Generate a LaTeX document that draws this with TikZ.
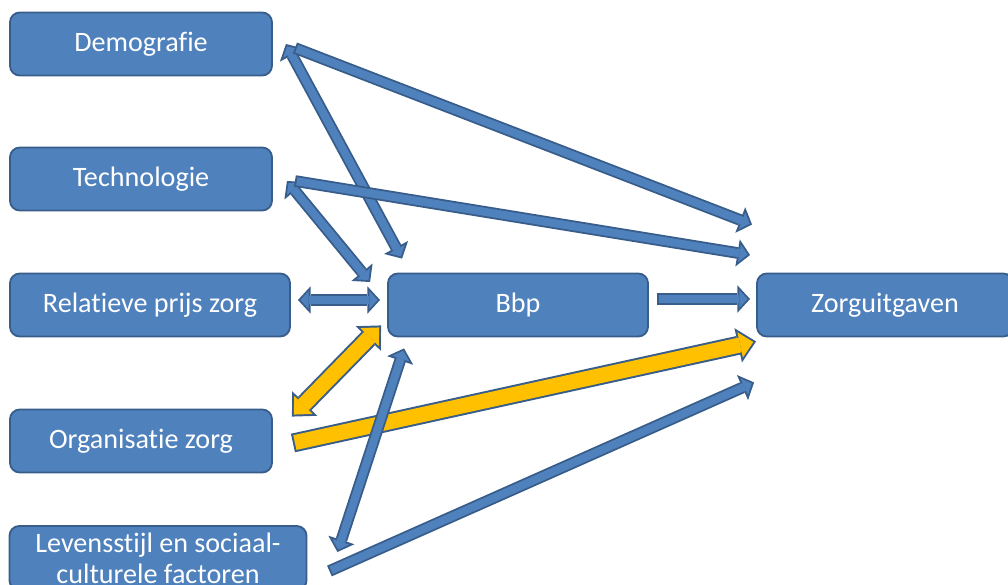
\documentclass[tikz,border=0pt]{standalone}
\usepackage{fontspec}
\setmainfont[Ligatures=NoCommon]{Carlito}
\usepackage{tikz}
\usetikzlibrary{arrows.meta,calc}
\definecolor{boxBlue}{RGB}{79,129,189}
\definecolor{edgeBlue}{RGB}{56,93,138}
\definecolor{costYellow}{RGB}{255,192,0}
\tikzset{
  factor/.style={draw=edgeBlue,fill=boxBlue,line width=1.3pt,rounded corners=7pt,
                 text=white,font=\fontsize{20}{22}\selectfont,align=center,
                 minimum width=6.55cm,minimum height=1.575cm,inner sep=2pt},
  bhead/.tip={Triangle[length=9pt,width=19.5pt,line width=0pt]},
  bcore/.tip={Triangle[length=5.8pt,width=12.6pt,line width=0pt]},
  yhead/.tip={Triangle[length=13pt,width=25pt,line width=0pt]},
  ycore/.tip={Triangle[length=9.6pt,width=18.4pt,line width=0pt]},
  barr/.style={line width=8.3pt,draw=edgeBlue,-bhead,
               postaction={draw=boxBlue,line width=5.7pt,shorten >=1.8pt,shorten <=1.3pt,-bcore}},
  bdarr/.style={line width=8.3pt,draw=edgeBlue,bhead-bhead,
               postaction={draw=boxBlue,line width=5.7pt,shorten >=1.8pt,shorten <=1.8pt,bcore-bcore}},
  yarr/.style={line width=13.5pt,draw=edgeBlue,-yhead,
               postaction={draw=costYellow,line width=10.7pt,shorten >=2pt,shorten <=1.4pt,-ycore}},
  ydarr/.style={line width=13.5pt,draw=edgeBlue,yhead-yhead,
               postaction={draw=costYellow,line width=10.7pt,shorten >=2pt,shorten <=2pt,ycore-ycore}},
}
\begin{document}
\begin{tikzpicture}[x=0.025cm,y=-0.025cm]
  \clip (0,0) rectangle (1008,585);

  \node[factor]                     (demo) at (141,44)  {Demografie};
  \node[factor]                     (tech) at (141,179) {Technologie};
  \node[factor,minimum width=7cm]   (rel)  at (150,305) {Relatieve prijs zorg};
  \node[factor]                     (org)  at (141,441) {Organisatie zorg};
  \node[factor,minimum width=7.425cm,minimum height=1.6cm] (life) at (158,558)
        {Levensstijl en sociaal-\\culturele factoren};
  \node[factor,minimum width=6.5cm] (bbp)  at (518,305) {Bbp};
  \node[factor,minimum width=6.4cm] (cost) at (885,305) {Zorguitgaven};

  % gele pijlen eerst, de blauwe liggen erover
  \draw[yarr]  ($(org.east)+(20,2)$)         -- ($(cost.south west)+(0,4)$);
  \draw[ydarr] ($(org.north east)+(19,8)$)   -- ($(bbp.south west)+(-6,-12)$);

  \draw[bdarr] ($(demo.east)+(13,0)$)        -- ($(bbp.north west)+(15,-14)$);
  \draw[barr]  ($(demo.east)+(22,4)$)        -- ($(cost.north west)+(-4,-48)$);
  \draw[bdarr] ($(tech.east)+(14,2)$)        -- ($(bbp.west)+(-17,-23)$);
  \draw[barr]  ($(tech.east)+(22,2)$)        -- ($(cost.west)+(-6,-50)$);
  \draw[bdarr] ($(rel.east)+(7,-5)$)         -- ($(bbp.west)+(-7,-5)$);
  \draw[barr]  ($(bbp.east)+(8,-6)$)         -- ($(cost.west)+(-6,-6)$);
  \draw[bdarr] ($(life.east)+(30,-6)$)       -- ($(bbp.south west)+(17,11)$);
  \draw[barr]  ($(life.east)+(22,13)$)       -- ($(cost.south west)+(-2,45)$);
\end{tikzpicture}
\end{document}
